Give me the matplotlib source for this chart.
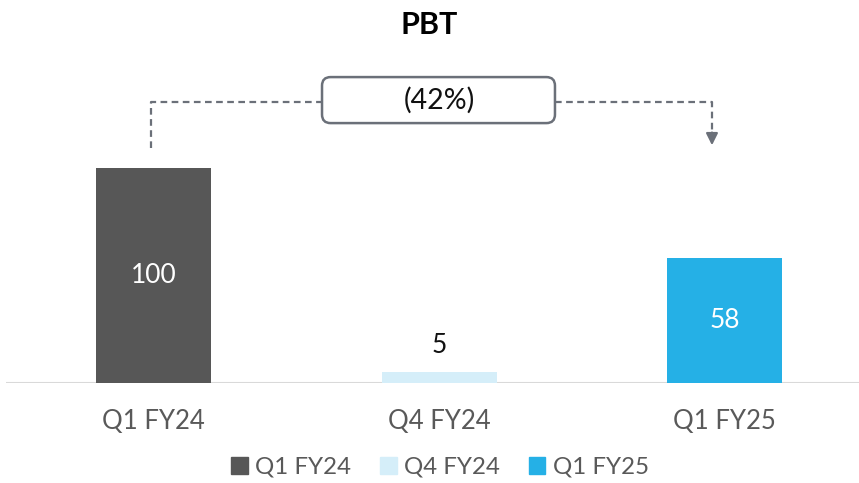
import matplotlib
matplotlib.use("Agg")
import matplotlib.pyplot as plt
from matplotlib.patches import FancyBboxPatch, Patch

categories = ["Q1 FY24", "Q4 FY24", "Q1 FY25"]
values = [100, 5, 58]
colors = ["#575757", "#d5eef9", "#25b0e6"]
label_colors = ["white", "#111111", "white"]
title = "PBT"

plt.rcParams["font.family"] = ["Lato", "DejaVu Sans"]

fig = plt.figure(figsize=(8.59, 4.83), dpi=100)
ax = fig.add_axes([6/859, 100/483, 853/859, 333/483])

x = list(range(len(categories)))
bars = ax.bar(x, values, width=0.403, color=colors, zorder=2)
ax.set_xlim(-0.517, 2.471)
ax.set_ylim(0, 154.9)

for xi, v, lc in zip(x, values, label_colors):
    if lc == "white":
        ax.text(xi, v / 2, f"{v}", ha="center", va="center", color=lc, fontsize=19)
    else:
        ax.text(xi, v + 12.5, f"{v}", ha="center", va="center", color=lc, fontsize=19)

for s in ax.spines.values():
    s.set_visible(False)
ax.axhline(0, color="#d9d9d9", lw=2.2, zorder=1)
ax.set_yticks([])
ax.set_xticks(x)
ax.set_xticklabels(categories, fontsize=18.5, color="#595959")
ax.tick_params(axis="x", length=0, pad=19)

fig.text(0.5, 1 - 25/483, title, ha="center", va="center", fontsize=22, fontweight="bold", color="#000000")

# change annotation
pct = (values[2] - values[0]) / values[0] * 100
pct_txt = f"({abs(pct):.0f}%)" if pct < 0 else f"{pct:.0f}%"
gc = "#6b7079"
y_low = values[0] + 9.3
y_line = values[0] + 30.7
x_l = x[0] - 0.01
x_r = x[2] - 0.044
box_l, box_r = 0.59, 1.406
box_b, box_t = 120.9, 142.3
kw = dict(color=gc, lw=1.6, ls=(0, (3, 2)), clip_on=False, zorder=3)
ax.plot([x_l, x_l, box_l], [y_low, y_line, y_line], **kw)
ax.plot([box_r, x_r, x_r], [y_line, y_line, y_low + 8], **kw)
ax.annotate("", xy=(x_r, y_low), xytext=(x_r, y_low + 8.5),
            arrowprops=dict(arrowstyle="-|>,head_length=0.7,head_width=0.35", color=gc, lw=1.6),
            annotation_clip=False)
box = FancyBboxPatch((box_l, box_b), box_r - box_l, box_t - box_b,
                     boxstyle="round,pad=0,rounding_size=0.03", mutation_aspect=132.8,
                     fc="white", ec=gc, lw=1.8, clip_on=False, zorder=4)
ax.add_patch(box)
ax.text(1.0, (box_b + box_t) / 2, pct_txt, ha="center", va="center", fontsize=20.5, color="#111111", zorder=5)

handles = [Patch(color=c, label=l) for c, l in zip(colors, categories)]
leg = fig.legend(handles=handles, loc="center", bbox_to_anchor=(0.512, 1 - 467/483), ncol=3,
                 frameon=False, fontsize=17.3, handlelength=0.7, handleheight=0.7,
                 handletextpad=0.3, columnspacing=1.2)
for t in leg.get_texts():
    t.set_color("#595959")

fig.savefig("out.png", dpi=100)
